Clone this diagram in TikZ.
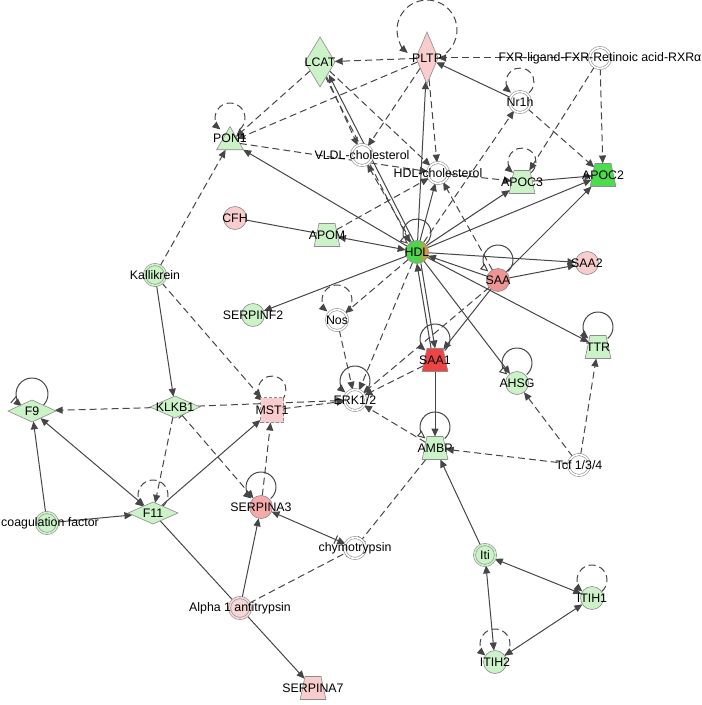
\documentclass[tikz,border=0pt]{standalone}
\usepackage{fontspec}
\setmainfont{Liberation Sans}
\usetikzlibrary{shapes.geometric,arrows.meta,calc}
\pgfdeclarelayer{bg}
\pgfsetlayers{bg,main}
\definecolor{ecol}{HTML}{464646}
\definecolor{nbord}{HTML}{8C8C8C}
\definecolor{lg}{HTML}{CCF2C8}
\definecolor{dg}{HTML}{4CDD4C}
\definecolor{pk}{HTML}{F9CDCD}
\definecolor{saac}{HTML}{EE9494}
\definecolor{sa3}{HTML}{F5AAAA}
\definecolor{saa1c}{HTML}{EE4444}
\definecolor{a1c}{HTML}{F6D6D6}
\definecolor{hdlg}{HTML}{4CD64C}
\definecolor{hdlo}{HTML}{EE8A40}
\pgfdeclarehorizontalshading{hdlsh}{100bp}{color(0bp)=(hdlg); color(25bp)=(hdlg); color(52bp)=(hdlg); color(66bp)=(hdlo!70!hdlg); color(75bp)=(hdlo); color(100bp)=(hdlo)}
\newcommand\sloop[4][]{\draw[#1] ($(#2.center)+(0,#4)+(-50:#3)$) arc[start angle=-50,end angle=230,radius=#3];}
\tikzset{
  x=1bp, y=1bp,
  lbl/.style={font=\fontsize{12.4}{14}\selectfont, inner sep=0pt, text=black},
  base/.style={draw=nbord, line width=0.6bp, inner sep=0pt, outer sep=0pt},
  circ/.style={base, circle, minimum size=23bp},
  dcirc/.style={base, circle, minimum size=21bp, double distance=1.6bp},
  dia/.style={base, diamond},
  hdia/.style={base, diamond, minimum width=50bp, minimum height=22bp, fill=lg},
  trap/.style={base, inner xsep=8bp, inner ysep=11.5bp, trapezium, trapezium angle=78, minimum width=0bp, minimum height=0bp},
  tri/.style={base, regular polygon, regular polygon sides=3, minimum size=31bp},
  sq/.style={base, rectangle, dash pattern=on 3bp off 2bp, minimum width=23bp, minimum height=25bp},
  e/.style={draw=ecol, line width=1bp},
  d/.style={e, dash pattern=on 7bp off 4bp},
  ar/.style={-{Triangle[length=8bp,width=7bp]}},
  bb/.style={{Triangle[length=8bp,width=7bp]}-{Triangle[length=8bp,width=7bp]}},
  oar/.style={-{Triangle[open,fill=white,length=8bp,width=7bp]}},
  inh/.style={-{Bar[width=9bp]}},
  inharr/.style={-{Bar[width=9bp,sep=2bp]Triangle[length=8bp,width=7bp]}},
}
\begin{document}
\begin{tikzpicture}
\useasboundingbox (0,0) rectangle (702,-705);
% nodes
\node[dia, fill=lg, minimum width=30bp, minimum height=50bp, label={[lbl]center:LCAT}] (LCAT) at (320,-62) {};
\node[dia, fill=pk, minimum width=22bp, minimum height=52bp, label={[lbl]center:PLTP}] (PLTP) at (427,-58) {};
\node[dcirc, fill=white, double=white, label={[lbl]center:FXR-ligand-FXR-Retinoic acid-RXRα}] (FXR) at (600,-58) {};
\node[dcirc, fill=white, double=white, label={[lbl]center:Nr1h}] (Nr1h) at (520,-102) {};
\node[tri, fill=lg, label={[lbl,yshift=4bp]center:PON1}] (PON1) at (230,-142) {};
\node[dcirc, fill=white, double=white, label={[lbl]center:VLDL-cholesterol}] (VLDL) at (362,-155) {};
\node[dcirc, fill=white, double=white, label={[lbl]center:HDL-cholesterol}] (HDLc) at (438,-173) {};
\node[trap, fill=lg, label={[lbl]center:APOC3}] (APOC3) at (522,-182) {};
\node[trap, fill=dg, label={[lbl]center:APOC2}] (APOC2) at (603,-175) {};
\node[circ, fill=pk, label={[lbl]center:CFH}] (CFH) at (235,-218) {};
\node[trap, fill=lg, label={[lbl]center:APOM}] (APOM) at (327,-235) {};
\node[circ, shading=hdlsh, label={[lbl]center:HDL}] (HDL) at (417,-252) {};
\node[circ, fill=saac, label={[lbl]center:SAA}] (SAA) at (498,-280) {};
\node[circ, fill=pk, label={[lbl]center:SAA2}] (SAA2) at (587,-263) {};
\node[dcirc, fill=lg, double=lg, label={[lbl]center:Kallikrein}] (Kal) at (155,-275) {};
\node[circ, fill=lg, label={[lbl]center:SERPINF2}] (SERPINF2) at (253,-315) {};
\node[dcirc, fill=white, double=white, label={[lbl]center:Nos}] (Nos) at (337,-320) {};
\node[trap, fill=lg, label={[lbl]center:TTR}] (TTR) at (598,-347) {};
\node[trap, fill=saa1c, label={[lbl]center:SAA1}] (SAA1) at (435,-360) {};
\node[circ, fill=lg, label={[lbl]center:AHSG}] (AHSG) at (517,-383) {};
\node[dcirc, fill=white, double=white, label={[lbl]center:ERK1/2}] (ERK) at (355,-400) {};
\node[hdia, minimum width=48bp, label={[lbl]center:F9}] (F9) at (32,-411) {};
\node[hdia, label={[lbl]center:KLKB1}] (KLKB1) at (175,-407) {};
\node[sq, fill=pk, label={[lbl]center:MST1}] (MST1) at (272,-410) {};
\node[trap, fill=lg, label={[lbl]center:AMBP}] (AMBP) at (435,-448) {};
\node[dcirc, fill=white, double=white, label={[lbl]center:Tcf 1/3/4}] (Tcf) at (579,-465) {};
\node[hdia, label={[lbl]center:F11}] (F11) at (153,-513) {};
\node[dcirc, fill=lg, double=lg, label={[lbl,xshift=3bp]center:coagulation factor}] (coag) at (47,-523) {};
\node[circ, fill=sa3, label={[lbl]center:SERPINA3}] (SERPINA3) at (261,-507) {};
\node[dcirc, fill=white, double=white, label={[lbl]center:chymotrypsin}] (chym) at (355,-548) {};
\node[dcirc, fill=lg, double=lg, label={[lbl]center:Iti}] (Iti) at (485,-555) {};
\node[circ, fill=lg, label={[lbl]center:ITIH1}] (ITIH1) at (592,-598) {};
\node[dcirc, fill=a1c, double=a1c, label={[lbl]center:Alpha 1 antitrypsin}] (A1AT) at (240,-608) {};
\node[trap, fill=pk, label={[lbl]center:SERPINA7}] (SERPINA7) at (313,-688) {};
\node[circ, fill=lg, label={[lbl]center:ITIH2}] (ITIH2) at (495,-662) {};
% edges
\begin{pgfonlayer}{bg}
\draw[d,ar] (FXR) -- (PLTP);
\draw[d,ar] (PLTP) -- (LCAT);
\draw[d,ar] (LCAT) -- (PON1);
\draw[d,ar] (PLTP) -- (PON1);
\draw[d,ar] (LCAT) -- (VLDL);
\draw[d,ar] (PLTP) -- (VLDL);
\draw[d,ar] (LCAT) -- (HDLc);
\draw[d,ar] (PLTP) -- (HDLc);
\draw[e,ar] (Nr1h) -- (PLTP);
\draw[d,ar] (Nr1h) -- (APOC2);
\draw[d,ar] (FXR) -- (APOC2);
\draw[d,ar] (FXR) -- (APOC3);
\draw[d,ar] (HDL) -- (Nr1h);
\draw[d,ar] (PON1) -- (HDLc);
\draw[d,ar] (HDLc) -- (APOC3);
\draw[d,ar] (Kal) -- (PON1);
\draw[e,ar] (HDL) -- (PON1);
\draw[e] (CFH) -- (APOM);
\draw[d,ar] (APOM) -- (HDLc);
\draw[e,bb] (HDL) -- (APOM);
\draw[e,ar,transform canvas={shift={(1.8,0.9)}}] (HDL) -- (LCAT);
\draw[d,ar,transform canvas={shift={(-1.8,-0.9)}}] (LCAT) -- (HDL);
\draw[d,ar] (HDL) -- (VLDL);
\draw[e,ar] (HDL) -- (PLTP);
\draw[e,ar] (HDL) -- (HDLc);
\draw[d,ar] (SAA) -- (HDLc);
\draw[e,ar] (HDL) -- (APOC3);
\draw[e,ar] (HDL) -- (APOC2);
\draw[e,ar] (APOC3) -- (APOC2);
\draw[e,ar] (SAA) -- (APOC2);
\draw[e,ar] (SAA) -- (SAA1);
\draw[e,ar] (SAA) -- (SAA2);
\draw[e,ar] (HDL) -- (SAA2);
\draw[e,ar] (SAA) -- (HDL);
\draw[e,ar] (HDL) -- (TTR);
\draw[e,ar] (HDL) -- (AHSG);
\draw[e,ar,transform canvas={xshift=2bp}] (HDL) -- (SAA1);
\draw[e,ar,transform canvas={xshift=-2bp}] (SAA1) -- (HDL);
\draw[e,ar] (SAA1) -- (AMBP);
\draw[d,ar] (Tcf) -- (AHSG);
\draw[d,ar] (Tcf) -- (TTR);
\draw[d,ar] (Tcf) -- (AMBP);
\draw[d,ar] (AMBP) -- (ERK);
\draw[e,ar] (Iti) -- (AMBP);
\draw[d,inh] (AMBP) -- (chym);
\draw[d,inh] (A1AT) -- (chym);
\draw[e,{Triangle[length=8bp,width=7bp]}-{Bar[width=9bp,sep=2bp]Triangle[length=8bp,width=7bp]}] (SERPINA3) -- (chym);
\draw[e,ar] (A1AT) -- (SERPINA3);
\draw[e,ar] (A1AT) -- (SERPINA7);
\draw[e] (F11) -- (A1AT);
\draw[d,ar] (SERPINA3) -- (MST1);
\draw[d,{Bar[width=9bp]}-{Triangle[length=8bp,width=7bp]}] (KLKB1) -- (SERPINA3);
\draw[e,ar] (F11) -- (MST1);
\draw[e,bb] (F11) -- (F9);
\draw[e,ar] (coag) -- (F9);
\draw[e,ar] (coag) -- (F11);
\draw[d,ar] (KLKB1) -- (F9);
\draw[d,ar] (KLKB1) -- (F11);
\draw[d,ar] (KLKB1) -- (ERK);
\draw[d,ar] (MST1) -- (ERK);
\draw[e,ar] (Kal) -- (KLKB1);
\draw[d,ar] (Kal) -- (MST1);
\draw[e,ar] (HDL) -- (SERPINF2);
\draw[d,ar] (HDL) -- (Nos);
\draw[d,ar] (Nos) -- (ERK);
\draw[d,ar] (HDL) -- (ERK);
\draw[d,ar] (SAA) -- (ERK);
\draw[d,ar] (SAA1) -- (ERK);
\draw[e,bb] (Iti) -- (ITIH1);
\draw[e,bb] (Iti) -- (ITIH2);
\draw[e,bb] (ITIH1) -- (ITIH2);
% self loops
\sloop[d,ar]{PLTP}{30}{28}
\sloop[d,ar]{PON1}{15}{24}
\sloop[d,ar]{Nr1h}{14}{20}
\sloop[d,ar]{APOC3}{14}{20}
\sloop[e,oar]{HDL}{14}{19}
\sloop[e,oar]{SAA}{15}{20}
\sloop[e,ar]{TTR}{15}{20}
\sloop[e,oar]{AHSG}{15}{20}
\sloop[e,ar]{SAA1}{15}{21}
\sloop[e,oar]{AMBP}{15}{21}
\sloop[e,ar]{ERK}{15}{19}
\sloop[d,ar]{Nos}{15}{20}
\sloop[d,ar]{MST1}{14}{20}
\sloop[e,inharr]{F9}{16}{17}
\sloop[d,ar]{F11}{15}{18}
\sloop[e,ar]{SERPINA3}{15}{20}
\sloop[d,ar]{ITIH1}{15}{18}
\sloop[d,ar]{ITIH2}{15}{18}
\end{pgfonlayer}
\end{tikzpicture}
\end{document}
